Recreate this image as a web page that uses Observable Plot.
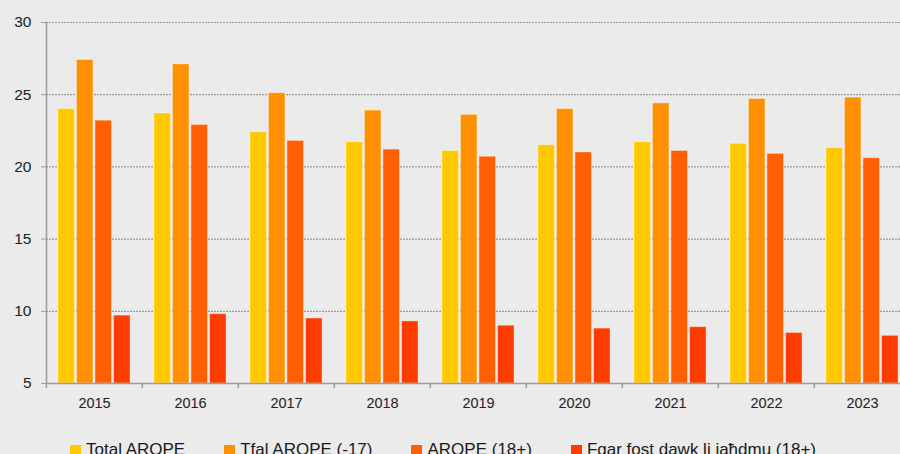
<!DOCTYPE html>
<html><head><meta charset="utf-8">
<script src="https://cdn.jsdelivr.net/npm/d3@7"></script>
<script src="https://cdn.jsdelivr.net/npm/@observablehq/plot@0.6"></script>
<style>
html,body{margin:0;padding:0;background:#ebebeb;overflow:hidden;width:900px;height:454px}
#chart{width:915px;height:425px}
.legend{display:flex;gap:39px;padding-left:70px;margin-top:15px;font:17px "Liberation Sans",sans-serif;color:#1a1a1a;white-space:nowrap}
.item{display:flex;align-items:center}
.sw{display:inline-block;width:11px;height:11px;margin-right:5px}
</style></head><body>
<div id="chart"></div>
<div class="legend" id="legend"></div>
<script>
const years = ["2015","2016","2017","2018","2019","2020","2021","2022","2023"];
const series = ["Total AROPE","Tfal AROPE (-17)","AROPE (18+)","Fqar fost dawk li jaħdmu (18+)"];
const totalArope = [24.0,23.7,22.4,21.7,21.1,21.5,21.7,21.6,21.3];
const tfalArope  = [27.4,27.1,25.1,23.9,23.6,24.0,24.4,24.7,24.8];
const adultArope = [23.2,22.9,21.8,21.2,20.7,21.0,21.1,20.9,20.6];
const workPoor   = [9.7,9.8,9.5,9.3,9.0,8.8,8.9,8.5,8.3];
const colors = ["#ffc800","#ff9100","#ff5f00","#ff3c00"];
const yTicks = [5,10,15,20,25,30];
const yMin = 5, yMax = 30;

const seriesValues = [totalArope, tfalArope, adultArope, workPoor];
const data = years.flatMap((yr, i) => series.map((s, j) => ({year: yr, series: s, value: seriesValues[j][i]})));

const W = 915, ML = 44, MR = 4;
const bandW = (W - ML - MR) / years.length;

const chart = Plot.plot({
  width: W, height: 425,
  marginLeft: ML, marginRight: MR, marginTop: 22, marginBottom: 42,
  style: {background: "transparent", fontFamily: "'Liberation Sans', sans-serif", fontSize: "14px", color: "#222", overflow: "visible"},
  fx: {domain: years, paddingInner: 0, paddingOuter: 0, label: null},
  x: {domain: series, paddingInner: 0.11, paddingOuter: 0.645, axis: null, round: false},
  y: {domain: [yMin, yMax], label: null},
  color: {domain: series, range: colors},
  marks: [
    Plot.gridY(yTicks, {stroke: "#9a9a9a", strokeOpacity: 1, strokeDasharray: "2,1", strokeWidth: 1.2}),
    Plot.barY(data, {fx: "year", x: "series", y1: yMin, y2: "value", fill: "series", stroke: "#ffffff", strokeOpacity: 0.35, strokeWidth: 1}),
    Plot.ruleY([yMin], {stroke: "#9a9a9a", strokeWidth: 1.5}),
    Plot.frame({anchor: "left", facetAnchor: "left", stroke: "#9a9a9a", strokeWidth: 1.5}),
    Plot.axisY(yTicks, {tickSize: 5, tickPadding: 10, stroke: "#9a9a9a", fill: "#222", fontSize: 15.5}),
    Plot.axisFx({anchor: "bottom", tickSize: 0, tickPadding: 14, fill: "#222", fontSize: 14.5}),
    Plot.axisFx({anchor: "bottom", tickSize: 5, tickFormat: () => "", dx: -bandW / 2, stroke: "#9a9a9a", strokeWidth: 1.5})
  ]
});
document.getElementById("chart").appendChild(chart);

const leg = document.getElementById("legend");
series.forEach((s, i) => {
  const it = document.createElement("div");
  it.className = "item";
  const sw = document.createElement("span");
  sw.className = "sw";
  sw.style.background = colors[i];
  const t = document.createElement("span");
  t.textContent = s;
  it.appendChild(sw); it.appendChild(t);
  leg.appendChild(it);
});
</script>
</body></html>
